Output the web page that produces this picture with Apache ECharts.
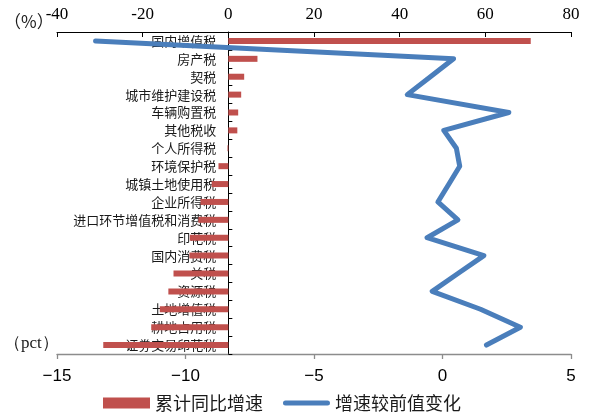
<!DOCTYPE html>
<html>
<head>
<meta charset="utf-8">
<script src="https://cdn.jsdelivr.net/npm/echarts@6/dist/echarts.min.js"></script>
<style>
  html, body { margin: 0; padding: 0; background: #fff; }
  #chart { width: 595px; height: 412px; }
</style>
</head>
<body>
<div id="chart"></div>
<script>
// Tax categories, top to bottom
const categories = [
  '国内增值税', '房产税', '契税', '城市维护建设税', '车辆购置税', '其他税收',
  '个人所得税', '环境保护税', '城镇土地使用税', '企业所得税', '进口环节增值税和消费税',
  '印花税', '国内消费税', '关税', '资源税', '土地增值税', '耕地占用税', '证券交易印花税'
];

// Cumulative year-on-year growth (%), top axis
const yoyGrowth = [
  70.6, 6.8, 3.7, 3.0, 2.3, 2.1,
  -0.2, -2.3, -3.9, -6.5, -7.0,
  -9.0, -9.1, -12.8, -14.0, -16.0, -18.0, -29.2
];

// Change in growth versus the previous reading (pct), bottom axis
const growthChange = [
  -13.5, 0.43, -0.47, -1.37, 2.58, 0.05,
  0.54, 0.67, 0.25, -0.18, 0.6,
  -0.6, 1.61, 0.6, -0.4, 1.48, 3.03, 1.71
];

const topTicks = { min: -40, max: 80, interval: 20 };
const bottomTicks = { min: -15, max: 5, interval: 5 };

const gridLeft = 57, gridRight = 24;
const gridWidth = 595 - gridLeft - gridRight;
// the category axis sits on the zero of the top axis
const zeroShift = gridWidth * (0 - topTicks.min) / (topTicks.max - topTicks.min);

const chart = echarts.init(document.getElementById('chart'), null, { renderer: 'canvas' });

chart.setOption({
  animation: false,
  backgroundColor: '#ffffff',
  grid: { left: gridLeft, right: gridRight, top: 32, bottom: 58, containLabel: false, outerBoundsMode: 'none' },
  xAxis: [
    {
      type: 'value',
      position: 'top',
      min: topTicks.min, max: topTicks.max, interval: topTicks.interval,
      axisLine: { show: true, onZero: false, lineStyle: { color: '#000', width: 1 } },
      axisTick: { show: true, inside: true, length: 5, lineStyle: { color: '#000' } },
      axisLabel: { color: '#000', fontFamily: 'Liberation Serif', fontSize: 17, margin: 9 },
      splitLine: { show: false }
    },
    {
      type: 'value',
      position: 'bottom',
      min: bottomTicks.min, max: bottomTicks.max, interval: bottomTicks.interval,
      axisLine: { show: true, onZero: false, lineStyle: { color: '#8c8c8c', width: 1.3 } },
      axisTick: { show: true, inside: false, length: 5, lineStyle: { color: '#8c8c8c', width: 1.3 } },
      axisLabel: {
        color: '#000', fontFamily: 'Liberation Sans', fontSize: 17, margin: 14,
        formatter: v => (v < 0 ? '\u2212' + Math.abs(v) : String(v))
      },
      splitLine: { show: false }
    }
  ],
  yAxis: {
    type: 'category',
    inverse: true,
    position: 'left',
    offset: -zeroShift,
    data: categories,
    axisLine: { show: true, onZero: false, lineStyle: { color: '#000', width: 1 } },
    axisTick: { show: true, inside: true, length: 4, lineStyle: { color: '#000' } },
    axisLabel: {
      color: '#1a1a1a', fontFamily: 'Noto Sans CJK SC', fontSize: 13, margin: 12
    },
    splitLine: { show: false }
  },
  legend: {
    bottom: 0,
    left: 103,
    padding: 0,
    itemWidth: 47,
    itemHeight: 11,
    itemGap: 20,
    textStyle: { fontFamily: 'Noto Sans CJK SC', fontSize: 18, color: '#1a1a1a' },
    data: [
      { name: '累计同比增速', icon: 'rect' },
      {
        name: '增速较前值变化',
        icon: 'path://M2.5,0 L44.5,0 A2.5,2.5 0 0 1 44.5,5 L2.5,5 A2.5,2.5 0 0 1 2.5,0 Z',
        itemStyle: { color: '#4A7EBB' }
      }
    ]
  },
  series: [
    {
      name: '累计同比增速',
      type: 'bar',
      xAxisIndex: 0,
      data: yoyGrowth,
      barWidth: 6,
      itemStyle: { color: '#C0504D' },
      z: 2
    },
    {
      name: '增速较前值变化',
      type: 'line',
      xAxisIndex: 1,
      data: growthChange,
      showSymbol: false,
      symbol: 'none',
      lineStyle: { color: '#4A7EBB', width: 5, cap: 'round', join: 'round' },
      itemStyle: { color: '#4A7EBB' },
      z: 3
    }
  ],
  graphic: [
    {
      type: 'text', left: 4, top: 13,
      style: { text: '（%）', font: '17px "Noto Sans CJK SC"', fill: '#1a1a1a' }
    },
    {
      type: 'text', left: 4, top: 335,
      style: { text: '（pct）', font: '17px "Liberation Serif"', fill: '#1a1a1a' }
    }
  ]
});
</script>
</body>
</html>
